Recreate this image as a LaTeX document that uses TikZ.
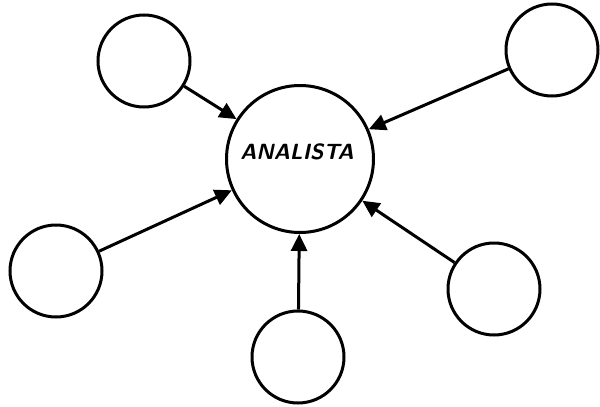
\documentclass[tikz,border=0pt]{standalone}
\usetikzlibrary{arrows.meta}
\tikzset{
  hub/.style={circle, draw, minimum size=147pt, inner sep=0pt},
  leaf/.style={circle, draw, minimum size=92pt, inner sep=0pt},
  hand/.style={font=\fontsize{22}{22}\selectfont\sffamily\bfseries\slshape}
}
\begin{document}
\begin{tikzpicture}[x=1pt, y=-1pt, line width=3pt]
      \useasboundingbox (0,0) rectangle (600,407);
      \draw
        (300,159) node[hub] (analista) {}
        (144,61) node[leaf] (1) {}
        (552,50) node[leaf] (2) {}
        (56,271) node[leaf] (3) {}
        (298,357) node[leaf] (4) {}
        (494,289) node[leaf] (5) {};
      \node[hand] (title) at (297,152) {ANALISTA};
      \begin{scope}[-{Triangle[length=17pt,width=16pt]}]
        \draw (1) to (analista);
        \draw (2) to (analista);
        \draw (3) to (analista);
        \draw (4) to (analista);
        \draw (5) to (analista);
      \end{scope}
    \end{tikzpicture}
\end{document}
